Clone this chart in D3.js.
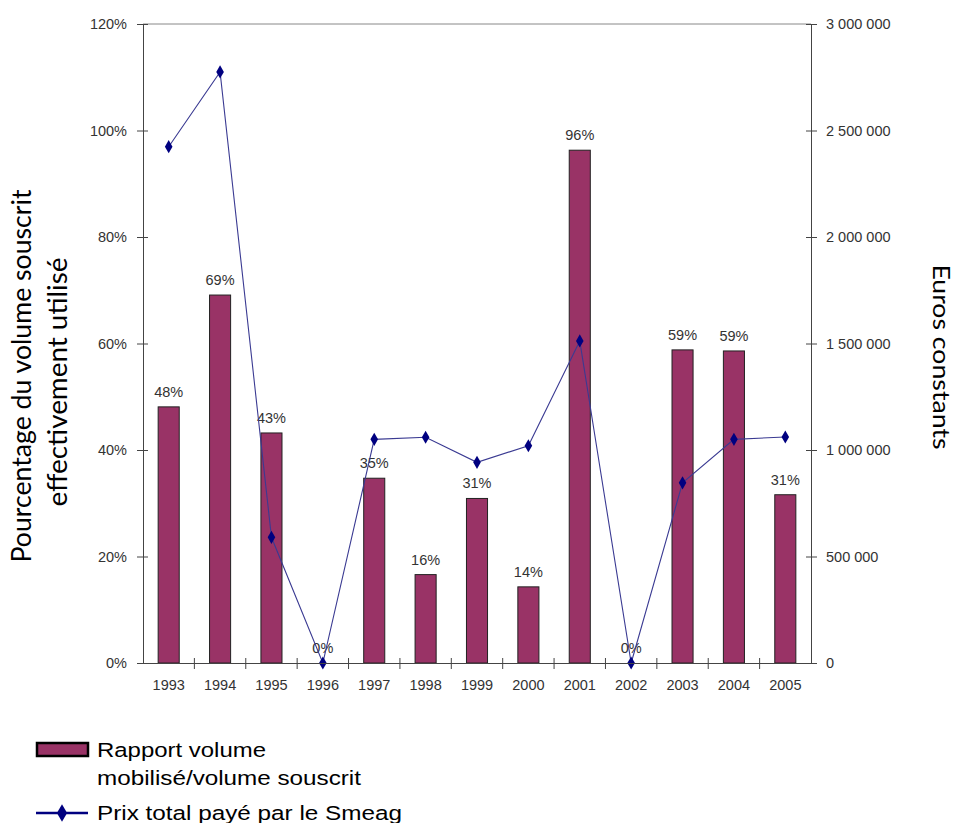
<!DOCTYPE html>
<html>
<head>
<meta charset="utf-8">
<script src="https://cdn.jsdelivr.net/npm/d3@7"></script>
<style>
	body { margin: 0; background: #fff; }
	svg { display: block; }
</style>
</head>
<body>
<script>
'use strict';

// Data
const years = ["1993", "1994", "1995", "1996", "1997", "1998", "1999", "2000", "2001", "2002", "2003", "2004", "2005"];
const ratioValues = [48.1, 69.1, 43.2, 0, 34.7, 16.6, 30.9, 14.3, 96.3, 0, 58.8, 58.6, 31.6];
const ratioLabels = ["48%", "69%", "43%", "0%", "35%", "16%", "31%", "14%", "96%", "0%", "59%", "59%", "31%"];
const priceValues = [2424000, 2775000, 590000, 0, 1050000, 1060000, 942000, 1020000, 1512000, 0, 846000, 1050000, 1061000];
const leftTicks = [0, 20, 40, 60, 80, 100, 120];
const rightTicks = [0, 500000, 1000000, 1500000, 2000000, 2500000, 3000000];
const leftTitle = ["Pourcentage du volume souscrit", "effectivement utilisé"];
const rightTitle = "Euros constants";
const legendBar = ["Rapport volume", "mobilisé/volume souscrit"];
const legendLine = "Prix total payé par le Smeag";

const params = { width: 957, height: 823, left: 143, right: 811, top: 24, bottom: 663 };
const barColor = "#993366";
const lineColor = "#000080";
const font = "'Liberation Sans', Arial, sans-serif";
const titleFont = "Lato, 'Open Sans', sans-serif";

const svg = d3.select("body")
	.append("svg")
	.attr("width", params.width)
	.attr("height", params.height);

// Scales
const xScale = d3.scaleBand()
	.domain(years)
	.range([params.left, params.right])
	.padding(0);

const yLeft = d3.scaleLinear()
	.domain([0, 120])
	.range([params.bottom, params.top]);

const yRight = d3.scaleLinear()
	.domain([0, 3000000])
	.range([params.bottom, params.top]);

const fmtEuro = d => d === 0 ? "0" : d3.format(",")(d).replace(/,/g, " ");
const cx = d => xScale(d) + xScale.bandwidth() / 2;

// Top border of the plot area
svg.append("line")
	.attr("x1", params.left).attr("x2", params.right)
	.attr("y1", params.top).attr("y2", params.top)
	.attr("stroke", "#888").attr("stroke-width", 1);

// Bars
const barW = xScale.bandwidth() * 0.41;
svg.append("g")
	.selectAll("rect")
	.data(years)
	.join("rect")
	.attr("x", d => cx(d) - barW / 2)
	.attr("y", (d, i) => yLeft(ratioValues[i]))
	.attr("width", barW)
	.attr("height", (d, i) => params.bottom - yLeft(ratioValues[i]))
	.attr("fill", barColor)
	.attr("stroke", "#222")
	.attr("stroke-width", 1);

// Bar labels
svg.append("g")
	.selectAll("text")
	.data(years)
	.join("text")
	.attr("x", d => cx(d))
	.attr("y", (d, i) => yLeft(ratioValues[i]) - 10)
	.attr("text-anchor", "middle")
	.attr("font-family", font)
	.attr("font-size", 14.5)
	.attr("fill", "#333")
	.text((d, i) => ratioLabels[i]);

// Line series
const lineGen = d3.line()
	.x((d, i) => cx(years[i]))
	.y(d => yRight(d));

svg.append("path")
	.attr("d", lineGen(priceValues))
	.attr("fill", "none")
	.attr("stroke", "#3a3a92")
	.attr("stroke-width", 1.1);

const diamond = d3.symbol().type(d3.symbolDiamond).size(50);
svg.append("g")
	.selectAll("path")
	.data(priceValues)
	.join("path")
	.attr("transform", (d, i) => `translate(${cx(years[i])},${yRight(d)})`)
	.attr("d", diamond)
	.attr("fill", lineColor);

// Axes
const styleAxis = (g) => {
	g.select(".domain").attr("stroke", "#444");
	g.selectAll(".tick line").attr("stroke", "#444");
	g.selectAll(".tick text")
		.attr("font-family", font)
		.attr("font-size", 14.5)
		.attr("fill", "#333");
};

svg.append("g")
	.attr("transform", `translate(${params.left},0)`)
	.call(d3.axisLeft(yLeft).tickValues(leftTicks).tickFormat(d => d + "%").tickSize(0).tickPadding(16))
	.call(styleAxis)
	.call(g => g.selectAll(".tick line").attr("x1", -6).attr("x2", 5));

svg.append("g")
	.attr("transform", `translate(${params.right},0)`)
	.call(d3.axisRight(yRight).tickValues(rightTicks).tickFormat(fmtEuro).tickSize(0).tickPadding(15))
	.call(styleAxis)
	.call(g => g.selectAll(".tick line").attr("x1", -5).attr("x2", 6));

const xAxis = svg.append("g")
	.attr("transform", `translate(0,${params.bottom})`)
	.call(d3.axisBottom(xScale).tickSize(0).tickPadding(17).tickSizeOuter(0))
	.call(styleAxis);

// category separator ticks
xAxis.append("g")
	.selectAll("line")
	.data(years.slice(1))
	.join("line")
	.attr("x1", d => xScale(d)).attr("x2", d => xScale(d))
	.attr("y1", -5).attr("y2", 6)
	.attr("stroke", "#444");

// Axis titles
svg.append("text")
	.attr("transform", "translate(31,376) rotate(-90)")
	.attr("text-anchor", "middle")
	.attr("font-family", titleFont)
	.attr("font-size", 26)
	.attr("textLength", 373)
	.attr("lengthAdjust", "spacingAndGlyphs")
	.text(leftTitle[0]);
svg.append("text")
	.attr("transform", "translate(67,382) rotate(-90)")
	.attr("text-anchor", "middle")
	.attr("font-family", titleFont)
	.attr("font-size", 26)
	.attr("textLength", 249)
	.attr("lengthAdjust", "spacingAndGlyphs")
	.text(leftTitle[1]);

svg.append("text")
	.attr("transform", "translate(933,357) rotate(90)")
	.attr("text-anchor", "middle")
	.attr("font-family", titleFont)
	.attr("font-size", 23)
	.attr("textLength", 185)
	.attr("lengthAdjust", "spacingAndGlyphs")
	.text(rightTitle);

// Legend
const legend = svg.append("g");
legend.append("rect")
	.attr("x", 37).attr("y", 743)
	.attr("width", 51).attr("height", 13)
	.attr("fill", barColor)
	.attr("stroke", "#000")
	.attr("stroke-width", 2.5);

const legendText = (y, txt, len) => legend.append("text")
	.attr("x", 97).attr("y", y)
	.attr("font-family", font)
	.attr("font-size", 20.5)
	.attr("textLength", len)
	.attr("lengthAdjust", "spacingAndGlyphs")
	.text(txt);

legendText(757, legendBar[0], 169);
legendText(785, legendBar[1], 264);

legend.append("line")
	.attr("x1", 36).attr("x2", 88)
	.attr("y1", 813).attr("y2", 813)
	.attr("stroke", lineColor)
	.attr("stroke-width", 2.5);
legend.append("path")
	.attr("transform", "translate(62,813)")
	.attr("d", d3.symbol().type(d3.symbolDiamond).size(90))
	.attr("fill", lineColor);
legendText(820, legendLine, 305);
</script>
</body>
</html>
